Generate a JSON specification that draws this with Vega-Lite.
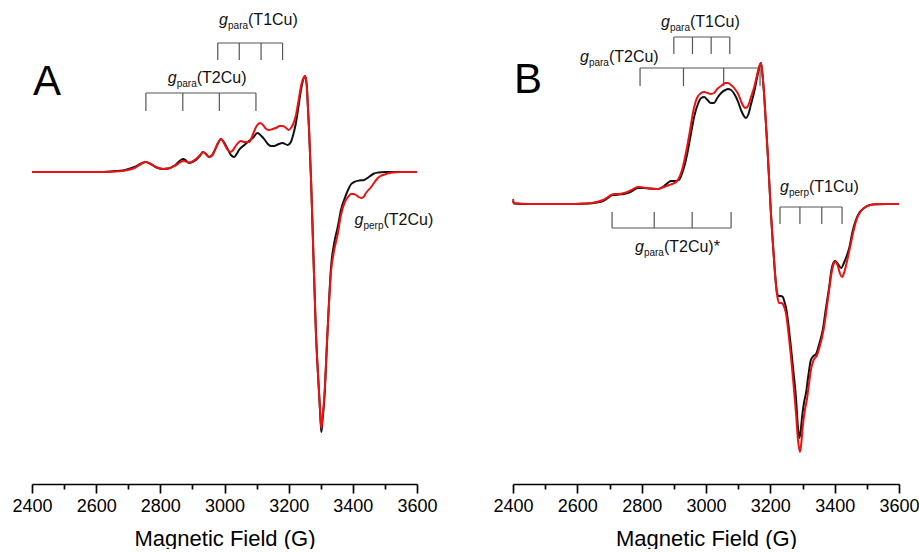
{
  "$schema": "https://vega.github.io/schema/vega-lite/v6.json",
  "padding": {"left": 11, "top": 0, "right": 0, "bottom": 0},
  "bounds": "flush",
  "spacing": 96,
  "background": "white",
  "config": {
    "view": {"stroke": null},
    "font": "Liberation Sans",
    "axis": {"domainColor": "#000", "domainWidth": 1.7, "tickColor": "#000", "tickWidth": 1.7, "labelFont": "Liberation Sans", "labelFontSize": 18, "labelColor": "#000", "titleFont": "Liberation Sans", "titleFontSize": 22, "titleFontWeight": "normal", "titleColor": "#000", "grid": false}
  },
  "datasets": {
    "specA": [
      {"trace":"black","field":2400,"intensity":0},{"trace":"black","field":2500,"intensity":0},{"trace":"black","field":2600,"intensity":0},{"trace":"black","field":2646,"intensity":0.5},{"trace":"black","field":2690,"intensity":2},{"trace":"black","field":2720,"intensity":5},{"trace":"black","field":2740,"intensity":8.5},{"trace":"black","field":2755,"intensity":10},{"trace":"black","field":2770,"intensity":8},{"trace":"black","field":2785,"intensity":5},{"trace":"black","field":2808,"intensity":3},{"trace":"black","field":2825,"intensity":3.5},{"trace":"black","field":2845,"intensity":6.5},{"trace":"black","field":2871,"intensity":13},{"trace":"black","field":2880,"intensity":11.5},{"trace":"black","field":2889,"intensity":9},{"trace":"black","field":2900,"intensity":10},{"trace":"black","field":2911,"intensity":12},{"trace":"black","field":2925,"intensity":17},{"trace":"black","field":2933,"intensity":20},{"trace":"black","field":2942,"intensity":18},{"trace":"black","field":2952,"intensity":15},{"trace":"black","field":2962,"intensity":17},{"trace":"black","field":2970,"intensity":22},{"trace":"black","field":2980,"intensity":29},{"trace":"black","field":2989,"intensity":33},{"trace":"black","field":2998,"intensity":30},{"trace":"black","field":3008,"intensity":24},{"trace":"black","field":3020,"intensity":17},{"trace":"black","field":3030,"intensity":15},{"trace":"black","field":3038,"intensity":18},{"trace":"black","field":3045,"intensity":22},{"trace":"black","field":3062,"intensity":27},{"trace":"black","field":3076,"intensity":31},{"trace":"black","field":3088,"intensity":34},{"trace":"black","field":3103,"intensity":39},{"trace":"black","field":3115,"intensity":36},{"trace":"black","field":3126,"intensity":32},{"trace":"black","field":3135,"intensity":28},{"trace":"black","field":3145,"intensity":26},{"trace":"black","field":3155,"intensity":26},{"trace":"black","field":3166,"intensity":27.5},{"trace":"black","field":3181,"intensity":29},{"trace":"black","field":3197,"intensity":27},{"trace":"black","field":3207,"intensity":30},{"trace":"black","field":3214,"intensity":37},{"trace":"black","field":3222,"intensity":48},{"trace":"black","field":3229,"intensity":62},{"trace":"black","field":3240,"intensity":85},{"trace":"black","field":3246,"intensity":93},{"trace":"black","field":3251,"intensity":96},{"trace":"black","field":3256,"intensity":88},{"trace":"black","field":3260,"intensity":65},{"trace":"black","field":3264,"intensity":39},{"trace":"black","field":3270,"intensity":-10},{"trace":"black","field":3275,"intensity":-61},{"trace":"black","field":3285,"intensity":-161},{"trace":"black","field":3291,"intensity":-200},{"trace":"black","field":3296,"intensity":-228},{"trace":"black","field":3300,"intensity":-252},{"trace":"black","field":3302,"intensity":-260},{"trace":"black","field":3305,"intensity":-250},{"trace":"black","field":3311,"intensity":-228},{"trace":"black","field":3321,"intensity":-161},{"trace":"black","field":3332,"intensity":-95},{"trace":"black","field":3342,"intensity":-71},{"trace":"black","field":3353,"intensity":-55},{"trace":"black","field":3363,"intensity":-38},{"trace":"black","field":3375,"intensity":-26},{"trace":"black","field":3385,"intensity":-18},{"trace":"black","field":3395,"intensity":-12},{"trace":"black","field":3404,"intensity":-10},{"trace":"black","field":3420,"intensity":-8.5},{"trace":"black","field":3435,"intensity":-8},{"trace":"black","field":3450,"intensity":-5},{"trace":"black","field":3466,"intensity":-1.5},{"trace":"black","field":3480,"intensity":-0.5},{"trace":"black","field":3500,"intensity":0},{"trace":"black","field":3550,"intensity":0},{"trace":"black","field":3600,"intensity":0},
      {"trace":"red","field":2400,"intensity":0},{"trace":"red","field":2500,"intensity":0},{"trace":"red","field":2600,"intensity":0},{"trace":"red","field":2646,"intensity":0.3},{"trace":"red","field":2690,"intensity":1.5},{"trace":"red","field":2720,"intensity":4},{"trace":"red","field":2740,"intensity":8},{"trace":"red","field":2755,"intensity":10},{"trace":"red","field":2770,"intensity":8},{"trace":"red","field":2790,"intensity":4.5},{"trace":"red","field":2808,"intensity":3},{"trace":"red","field":2825,"intensity":3.5},{"trace":"red","field":2845,"intensity":6},{"trace":"red","field":2871,"intensity":11},{"trace":"red","field":2880,"intensity":10.5},{"trace":"red","field":2889,"intensity":9.5},{"trace":"red","field":2900,"intensity":10.5},{"trace":"red","field":2911,"intensity":13},{"trace":"red","field":2925,"intensity":17},{"trace":"red","field":2933,"intensity":20},{"trace":"red","field":2942,"intensity":18},{"trace":"red","field":2952,"intensity":15},{"trace":"red","field":2962,"intensity":17},{"trace":"red","field":2970,"intensity":22},{"trace":"red","field":2980,"intensity":29},{"trace":"red","field":2989,"intensity":33},{"trace":"red","field":2998,"intensity":29},{"trace":"red","field":3008,"intensity":23},{"trace":"red","field":3018,"intensity":20},{"trace":"red","field":3027,"intensity":22},{"trace":"red","field":3037,"intensity":27},{"trace":"red","field":3051,"intensity":31},{"trace":"red","field":3062,"intensity":30},{"trace":"red","field":3077,"intensity":30},{"trace":"red","field":3089,"intensity":38},{"trace":"red","field":3100,"intensity":46},{"trace":"red","field":3111,"intensity":49},{"trace":"red","field":3120,"intensity":47},{"trace":"red","field":3130,"intensity":43},{"trace":"red","field":3139,"intensity":42},{"trace":"red","field":3150,"intensity":43},{"trace":"red","field":3160,"intensity":44},{"trace":"red","field":3172,"intensity":46},{"trace":"red","field":3182,"intensity":46},{"trace":"red","field":3192,"intensity":44},{"trace":"red","field":3200,"intensity":42},{"trace":"red","field":3207,"intensity":44},{"trace":"red","field":3214,"intensity":48},{"trace":"red","field":3222,"intensity":56},{"trace":"red","field":3229,"intensity":68},{"trace":"red","field":3240,"intensity":88},{"trace":"red","field":3246,"intensity":94},{"trace":"red","field":3251,"intensity":96},{"trace":"red","field":3256,"intensity":88},{"trace":"red","field":3260,"intensity":65},{"trace":"red","field":3264,"intensity":39},{"trace":"red","field":3270,"intensity":-10},{"trace":"red","field":3275,"intensity":-61},{"trace":"red","field":3285,"intensity":-161},{"trace":"red","field":3291,"intensity":-200},{"trace":"red","field":3296,"intensity":-228},{"trace":"red","field":3300,"intensity":-250},{"trace":"red","field":3302,"intensity":-256},{"trace":"red","field":3305,"intensity":-247},{"trace":"red","field":3311,"intensity":-225},{"trace":"red","field":3321,"intensity":-160},{"trace":"red","field":3332,"intensity":-100},{"trace":"red","field":3342,"intensity":-78},{"trace":"red","field":3353,"intensity":-62},{"trace":"red","field":3363,"intensity":-43},{"trace":"red","field":3375,"intensity":-30},{"trace":"red","field":3385,"intensity":-25},{"trace":"red","field":3394,"intensity":-22},{"trace":"red","field":3402,"intensity":-22},{"trace":"red","field":3410,"intensity":-23},{"trace":"red","field":3418,"intensity":-25},{"trace":"red","field":3426,"intensity":-26},{"trace":"red","field":3433,"intensity":-25},{"trace":"red","field":3441,"intensity":-21},{"trace":"red","field":3457,"intensity":-15},{"trace":"red","field":3468,"intensity":-10},{"trace":"red","field":3478,"intensity":-6},{"trace":"red","field":3490,"intensity":-3.5},{"trace":"red","field":3503,"intensity":-2},{"trace":"red","field":3525,"intensity":-0.5},{"trace":"red","field":3550,"intensity":0},{"trace":"red","field":3600,"intensity":0}
    ],
    "specB": [
      {"trace":"black","field":2400,"intensity":3},{"trace":"black","field":2403,"intensity":0.5},{"trace":"black","field":2450,"intensity":0},{"trace":"black","field":2550,"intensity":0},{"trace":"black","field":2633,"intensity":0.5},{"trace":"black","field":2660,"intensity":1.5},{"trace":"black","field":2680,"intensity":3},{"trace":"black","field":2695,"intensity":6},{"trace":"black","field":2705,"intensity":8.5},{"trace":"black","field":2714,"intensity":9},{"trace":"black","field":2730,"intensity":9.5},{"trace":"black","field":2745,"intensity":10},{"trace":"black","field":2765,"intensity":12},{"trace":"black","field":2789,"intensity":16},{"trace":"black","field":2804,"intensity":16},{"trace":"black","field":2825,"intensity":15.5},{"trace":"black","field":2851,"intensity":15},{"trace":"black","field":2870,"intensity":18},{"trace":"black","field":2885,"intensity":22},{"trace":"black","field":2891,"intensity":23},{"trace":"black","field":2905,"intensity":23},{"trace":"black","field":2916,"intensity":24},{"trace":"black","field":2925,"intensity":30},{"trace":"black","field":2932,"intensity":37},{"trace":"black","field":2944,"intensity":54},{"trace":"black","field":2953,"intensity":70},{"trace":"black","field":2963,"intensity":87},{"trace":"black","field":2975,"intensity":100},{"trace":"black","field":2985,"intensity":106},{"trace":"black","field":2994,"intensity":107},{"trace":"black","field":3005,"intensity":104},{"trace":"black","field":3015,"intensity":101},{"trace":"black","field":3025,"intensity":101},{"trace":"black","field":3035,"intensity":106},{"trace":"black","field":3047,"intensity":111},{"trace":"black","field":3060,"intensity":114},{"trace":"black","field":3068,"intensity":115},{"trace":"black","field":3078,"intensity":114},{"trace":"black","field":3090,"intensity":109},{"trace":"black","field":3100,"intensity":102},{"trace":"black","field":3110,"intensity":93},{"trace":"black","field":3118,"intensity":88},{"trace":"black","field":3124,"intensity":86},{"trace":"black","field":3132,"intensity":90},{"trace":"black","field":3140,"intensity":100},{"trace":"black","field":3149,"intensity":111},{"trace":"black","field":3158,"intensity":125},{"trace":"black","field":3165,"intensity":136},{"trace":"black","field":3171,"intensity":141},{"trace":"black","field":3176,"intensity":128},{"trace":"black","field":3181,"intensity":108},{"trace":"black","field":3186,"intensity":82},{"trace":"black","field":3192,"intensity":50},{"trace":"black","field":3197,"intensity":20},{"trace":"black","field":3202,"intensity":-10},{"trace":"black","field":3207,"intensity":-35},{"trace":"black","field":3212,"intensity":-58},{"trace":"black","field":3217,"intensity":-78},{"trace":"black","field":3221,"intensity":-89},{"trace":"black","field":3226,"intensity":-92},{"trace":"black","field":3232,"intensity":-92},{"trace":"black","field":3239,"intensity":-93},{"trace":"black","field":3244,"intensity":-98},{"trace":"black","field":3249,"intensity":-104},{"trace":"black","field":3256,"intensity":-120},{"trace":"black","field":3264,"intensity":-143},{"trace":"black","field":3272,"intensity":-168},{"trace":"black","field":3280,"intensity":-195},{"trace":"black","field":3285,"intensity":-220},{"trace":"black","field":3290,"intensity":-234},{"trace":"black","field":3294,"intensity":-228},{"trace":"black","field":3299,"intensity":-212},{"trace":"black","field":3305,"intensity":-198},{"trace":"black","field":3311,"intensity":-189},{"trace":"black","field":3318,"intensity":-172},{"trace":"black","field":3326,"intensity":-156},{"trace":"black","field":3334,"intensity":-152},{"trace":"black","field":3342,"intensity":-150},{"trace":"black","field":3352,"intensity":-140},{"trace":"black","field":3363,"intensity":-126},{"trace":"black","field":3373,"intensity":-104},{"trace":"black","field":3383,"intensity":-83},{"trace":"black","field":3390,"intensity":-66},{"trace":"black","field":3396,"intensity":-59},{"trace":"black","field":3401,"intensity":-57},{"trace":"black","field":3410,"intensity":-60},{"trace":"black","field":3420,"intensity":-64},{"trace":"black","field":3430,"intensity":-58},{"trace":"black","field":3446,"intensity":-43},{"trace":"black","field":3456,"intensity":-27},{"trace":"black","field":3466,"intensity":-16},{"trace":"black","field":3478,"intensity":-8},{"trace":"black","field":3492,"intensity":-4},{"trace":"black","field":3505,"intensity":-1.5},{"trace":"black","field":3522,"intensity":-0.5},{"trace":"black","field":3560,"intensity":0},{"trace":"black","field":3600,"intensity":0},
      {"trace":"red","field":2400,"intensity":5},{"trace":"red","field":2403,"intensity":1},{"trace":"red","field":2450,"intensity":0},{"trace":"red","field":2550,"intensity":0},{"trace":"red","field":2633,"intensity":0.5},{"trace":"red","field":2660,"intensity":2},{"trace":"red","field":2680,"intensity":4},{"trace":"red","field":2695,"intensity":7},{"trace":"red","field":2705,"intensity":9},{"trace":"red","field":2714,"intensity":10},{"trace":"red","field":2730,"intensity":10},{"trace":"red","field":2745,"intensity":11},{"trace":"red","field":2765,"intensity":13.5},{"trace":"red","field":2789,"intensity":17},{"trace":"red","field":2804,"intensity":16.5},{"trace":"red","field":2825,"intensity":15.5},{"trace":"red","field":2851,"intensity":15},{"trace":"red","field":2870,"intensity":17},{"trace":"red","field":2885,"intensity":19},{"trace":"red","field":2895,"intensity":20},{"trace":"red","field":2910,"intensity":23},{"trace":"red","field":2920,"intensity":29},{"trace":"red","field":2928,"intensity":37},{"trace":"red","field":2940,"intensity":55},{"trace":"red","field":2950,"intensity":73},{"trace":"red","field":2960,"intensity":92},{"trace":"red","field":2972,"intensity":106},{"trace":"red","field":2985,"intensity":111},{"trace":"red","field":2994,"intensity":112},{"trace":"red","field":3005,"intensity":111},{"trace":"red","field":3015,"intensity":110},{"trace":"red","field":3025,"intensity":111},{"trace":"red","field":3035,"intensity":115},{"trace":"red","field":3047,"intensity":118},{"trace":"red","field":3060,"intensity":121},{"trace":"red","field":3068,"intensity":121},{"trace":"red","field":3078,"intensity":119},{"trace":"red","field":3090,"intensity":115},{"trace":"red","field":3100,"intensity":110},{"trace":"red","field":3110,"intensity":102},{"trace":"red","field":3118,"intensity":97},{"trace":"red","field":3124,"intensity":96},{"trace":"red","field":3132,"intensity":99},{"trace":"red","field":3140,"intensity":107},{"trace":"red","field":3149,"intensity":116},{"trace":"red","field":3158,"intensity":128},{"trace":"red","field":3165,"intensity":137},{"trace":"red","field":3171,"intensity":141},{"trace":"red","field":3176,"intensity":128},{"trace":"red","field":3181,"intensity":108},{"trace":"red","field":3186,"intensity":82},{"trace":"red","field":3192,"intensity":50},{"trace":"red","field":3197,"intensity":20},{"trace":"red","field":3202,"intensity":-10},{"trace":"red","field":3207,"intensity":-35},{"trace":"red","field":3212,"intensity":-58},{"trace":"red","field":3217,"intensity":-80},{"trace":"red","field":3222,"intensity":-93},{"trace":"red","field":3228,"intensity":-99},{"trace":"red","field":3234,"intensity":-99},{"trace":"red","field":3239,"intensity":-100},{"trace":"red","field":3244,"intensity":-104},{"trace":"red","field":3249,"intensity":-110},{"trace":"red","field":3256,"intensity":-128},{"trace":"red","field":3264,"intensity":-152},{"trace":"red","field":3272,"intensity":-180},{"trace":"red","field":3280,"intensity":-210},{"trace":"red","field":3286,"intensity":-236},{"trace":"red","field":3292,"intensity":-248},{"trace":"red","field":3296,"intensity":-240},{"trace":"red","field":3301,"intensity":-222},{"trace":"red","field":3308,"intensity":-205},{"trace":"red","field":3314,"intensity":-195},{"trace":"red","field":3320,"intensity":-180},{"trace":"red","field":3328,"intensity":-163},{"trace":"red","field":3336,"intensity":-155},{"trace":"red","field":3344,"intensity":-152},{"trace":"red","field":3354,"intensity":-142},{"trace":"red","field":3366,"intensity":-125},{"trace":"red","field":3375,"intensity":-105},{"trace":"red","field":3384,"intensity":-83},{"trace":"red","field":3392,"intensity":-66},{"trace":"red","field":3398,"intensity":-59},{"trace":"red","field":3403,"intensity":-58},{"trace":"red","field":3410,"intensity":-62},{"trace":"red","field":3417,"intensity":-70},{"trace":"red","field":3423,"intensity":-73},{"trace":"red","field":3430,"intensity":-68},{"trace":"red","field":3440,"intensity":-55},{"trace":"red","field":3450,"intensity":-40},{"trace":"red","field":3460,"intensity":-25},{"trace":"red","field":3470,"intensity":-14},{"trace":"red","field":3482,"intensity":-7},{"trace":"red","field":3495,"intensity":-3},{"trace":"red","field":3510,"intensity":-1},{"trace":"red","field":3530,"intensity":0},{"trace":"red","field":3600,"intensity":0}
    ],
    "brackets": [
      {"panel":"A","x":2979,"x2":3181,"y":129,"y2":129},{"panel":"A","x":2979,"x2":2979,"y":129,"y2":112},{"panel":"A","x":3046,"x2":3046,"y":129,"y2":112},{"panel":"A","x":3114,"x2":3114,"y":129,"y2":112},{"panel":"A","x":3181,"x2":3181,"y":129,"y2":112},
      {"panel":"A","x":2755,"x2":3098,"y":79,"y2":79},{"panel":"A","x":2755,"x2":2755,"y":79,"y2":61},{"panel":"A","x":2870,"x2":2870,"y":79,"y2":61},{"panel":"A","x":2984,"x2":2984,"y":79,"y2":61},{"panel":"A","x":3098,"x2":3098,"y":79,"y2":61},
      {"panel":"B","x":2900,"x2":3074,"y":167,"y2":167},{"panel":"B","x":2900,"x2":2900,"y":167,"y2":150},{"panel":"B","x":2958,"x2":2958,"y":167,"y2":150},{"panel":"B","x":3016,"x2":3016,"y":167,"y2":150},{"panel":"B","x":3074,"x2":3074,"y":167,"y2":150},
      {"panel":"B","x":2795,"x2":3168,"y":136,"y2":136},{"panel":"B","x":2795,"x2":2795,"y":136,"y2":118},{"panel":"B","x":2930,"x2":2930,"y":136,"y2":118},{"panel":"B","x":3055,"x2":3055,"y":136,"y2":118},{"panel":"B","x":3168,"x2":3168,"y":136,"y2":118},
      {"panel":"B","x":2708,"x2":3078,"y":-24,"y2":-24},{"panel":"B","x":2708,"x2":2708,"y":-24,"y2":-8},{"panel":"B","x":2839,"x2":2839,"y":-24,"y2":-8},{"panel":"B","x":2957,"x2":2957,"y":-24,"y2":-8},{"panel":"B","x":3078,"x2":3078,"y":-24,"y2":-8},
      {"panel":"B","x":3230,"x2":3423,"y":-3,"y2":-3},{"panel":"B","x":3230,"x2":3230,"y":-3,"y2":-20},{"panel":"B","x":3292,"x2":3292,"y":-3,"y2":-20},{"panel":"B","x":3360,"x2":3360,"y":-3,"y2":-20},{"panel":"B","x":3423,"x2":3423,"y":-3,"y2":-20}
    ],
    "labels": [
      {"panel":"A","x":2983,"y":152,"sub":"para","rest":"(T1Cu)"},
      {"panel":"A","x":2823,"y":94,"sub":"para","rest":"(T2Cu)"},
      {"panel":"A","x":3405,"y":-48,"sub":"perp","rest":"(T2Cu)"},
      {"panel":"B","x":2860,"y":182,"sub":"para","rest":"(T1Cu)"},
      {"panel":"B","x":2608,"y":147,"sub":"para","rest":"(T2Cu)"},
      {"panel":"B","x":2779,"y":-43,"sub":"para","rest":"(T2Cu)*"},
      {"panel":"B","x":3230,"y":17,"sub":"perp","rest":"(T1Cu)"}
    ],
    "letters": [
      {"panel":"A","x":2403,"y":77,"letter":"A"},
      {"panel":"B","x":2403,"y":111,"letter":"B"}
    ]
  },
  "hconcat": [
    {
      "width": 385, "height": 484,
      "encoding": {
        "x": {"type": "quantitative", "scale": {"domain": [2400, 3600], "nice": false, "zero": false},
          "axis": {"values": [2400,2500,2600,2700,2800,2900,3000,3100,3200,3300,3400,3500,3600], "format": "d", "labelExpr": "datum.value % 200 === 0 ? datum.label : ''", "tickSize": {"condition": {"test": "datum.value % 200 === 0", "value": 9}, "value": 5}, "labelFlush": false, "labelOverlap": false, "labelPadding": 4, "titlePadding": 13, "title": "Magnetic Field (G)"}},
        "y": {"type": "quantitative", "scale": {"domain": [-312, 172], "nice": false, "zero": false}, "axis": null}
      },
      "layer": [
        {"data": {"name": "brackets"}, "transform": [{"filter": "datum.panel === 'A'"}], "mark": {"type": "rule", "color": "#555", "strokeWidth": 1.2}, "encoding": {"x": {"field": "x", "type": "quantitative"}, "x2": {"field": "x2"}, "y": {"field": "y", "type": "quantitative"}, "y2": {"field": "y2"}}},
        {"data": {"name": "specA"}, "mark": {"type": "line", "strokeWidth": 2, "interpolate": "monotone"}, "encoding": {"x": {"field": "field", "type": "quantitative"}, "y": {"field": "intensity", "type": "quantitative"}, "color": {"field": "trace", "type": "nominal", "scale": {"domain": ["black", "red"], "range": ["#111111", "#ee1111"]}, "legend": null}}},
        {"data": {"name": "labels"}, "transform": [{"filter": "datum.panel === 'A'"}], "mark": {"type": "text", "align": "left", "baseline": "middle", "fontSize": 16, "fontStyle": "italic", "color": "#111"}, "encoding": {"x": {"field": "x", "type": "quantitative"}, "y": {"field": "y", "type": "quantitative"}, "text": {"value": "g"}}},
        {"data": {"name": "labels"}, "transform": [{"filter": "datum.panel === 'A'"}], "mark": {"type": "text", "align": "left", "baseline": "middle", "fontSize": 10, "dx": 9, "dy": 6, "color": "#111"}, "encoding": {"x": {"field": "x", "type": "quantitative"}, "y": {"field": "y", "type": "quantitative"}, "text": {"field": "sub"}}},
        {"data": {"name": "labels"}, "transform": [{"filter": "datum.panel === 'A'"}], "mark": {"type": "text", "align": "left", "baseline": "middle", "fontSize": 16, "dx": 29, "color": "#111"}, "encoding": {"x": {"field": "x", "type": "quantitative"}, "y": {"field": "y", "type": "quantitative"}, "text": {"field": "rest"}}},
        {"data": {"name": "letters"}, "transform": [{"filter": "datum.panel === 'A'"}], "mark": {"type": "text", "align": "left", "baseline": "alphabetic", "fontSize": 42, "color": "#000"}, "encoding": {"x": {"field": "x", "type": "quantitative"}, "y": {"field": "y", "type": "quantitative"}, "text": {"field": "letter"}}}
      ]
    },
    {
      "width": 386, "height": 484,
      "encoding": {
        "x": {"type": "quantitative", "scale": {"domain": [2400, 3600], "nice": false, "zero": false},
          "axis": {"values": [2400,2500,2600,2700,2800,2900,3000,3100,3200,3300,3400,3500,3600], "format": "d", "labelExpr": "datum.value % 200 === 0 ? datum.label : ''", "tickSize": {"condition": {"test": "datum.value % 200 === 0", "value": 9}, "value": 5}, "labelFlush": false, "labelOverlap": false, "labelPadding": 4, "titlePadding": 13, "title": "Magnetic Field (G)"}},
        "y": {"type": "quantitative", "scale": {"domain": [-280, 204], "nice": false, "zero": false}, "axis": null}
      },
      "layer": [
        {"data": {"name": "brackets"}, "transform": [{"filter": "datum.panel === 'B'"}], "mark": {"type": "rule", "color": "#555", "strokeWidth": 1.2}, "encoding": {"x": {"field": "x", "type": "quantitative"}, "x2": {"field": "x2"}, "y": {"field": "y", "type": "quantitative"}, "y2": {"field": "y2"}}},
        {"data": {"name": "specB"}, "mark": {"type": "line", "strokeWidth": 2, "interpolate": "monotone"}, "encoding": {"x": {"field": "field", "type": "quantitative"}, "y": {"field": "intensity", "type": "quantitative"}, "color": {"field": "trace", "type": "nominal", "scale": {"domain": ["black", "red"], "range": ["#111111", "#ee1111"]}, "legend": null}}},
        {"data": {"name": "labels"}, "transform": [{"filter": "datum.panel === 'B'"}], "mark": {"type": "text", "align": "left", "baseline": "middle", "fontSize": 16, "fontStyle": "italic", "color": "#111"}, "encoding": {"x": {"field": "x", "type": "quantitative"}, "y": {"field": "y", "type": "quantitative"}, "text": {"value": "g"}}},
        {"data": {"name": "labels"}, "transform": [{"filter": "datum.panel === 'B'"}], "mark": {"type": "text", "align": "left", "baseline": "middle", "fontSize": 10, "dx": 9, "dy": 6, "color": "#111"}, "encoding": {"x": {"field": "x", "type": "quantitative"}, "y": {"field": "y", "type": "quantitative"}, "text": {"field": "sub"}}},
        {"data": {"name": "labels"}, "transform": [{"filter": "datum.panel === 'B'"}], "mark": {"type": "text", "align": "left", "baseline": "middle", "fontSize": 16, "dx": 29, "color": "#111"}, "encoding": {"x": {"field": "x", "type": "quantitative"}, "y": {"field": "y", "type": "quantitative"}, "text": {"field": "rest"}}},
        {"data": {"name": "letters"}, "transform": [{"filter": "datum.panel === 'B'"}], "mark": {"type": "text", "align": "left", "baseline": "alphabetic", "fontSize": 42, "color": "#000"}, "encoding": {"x": {"field": "x", "type": "quantitative"}, "y": {"field": "y", "type": "quantitative"}, "text": {"field": "letter"}}}
      ]
    }
  ]
}
